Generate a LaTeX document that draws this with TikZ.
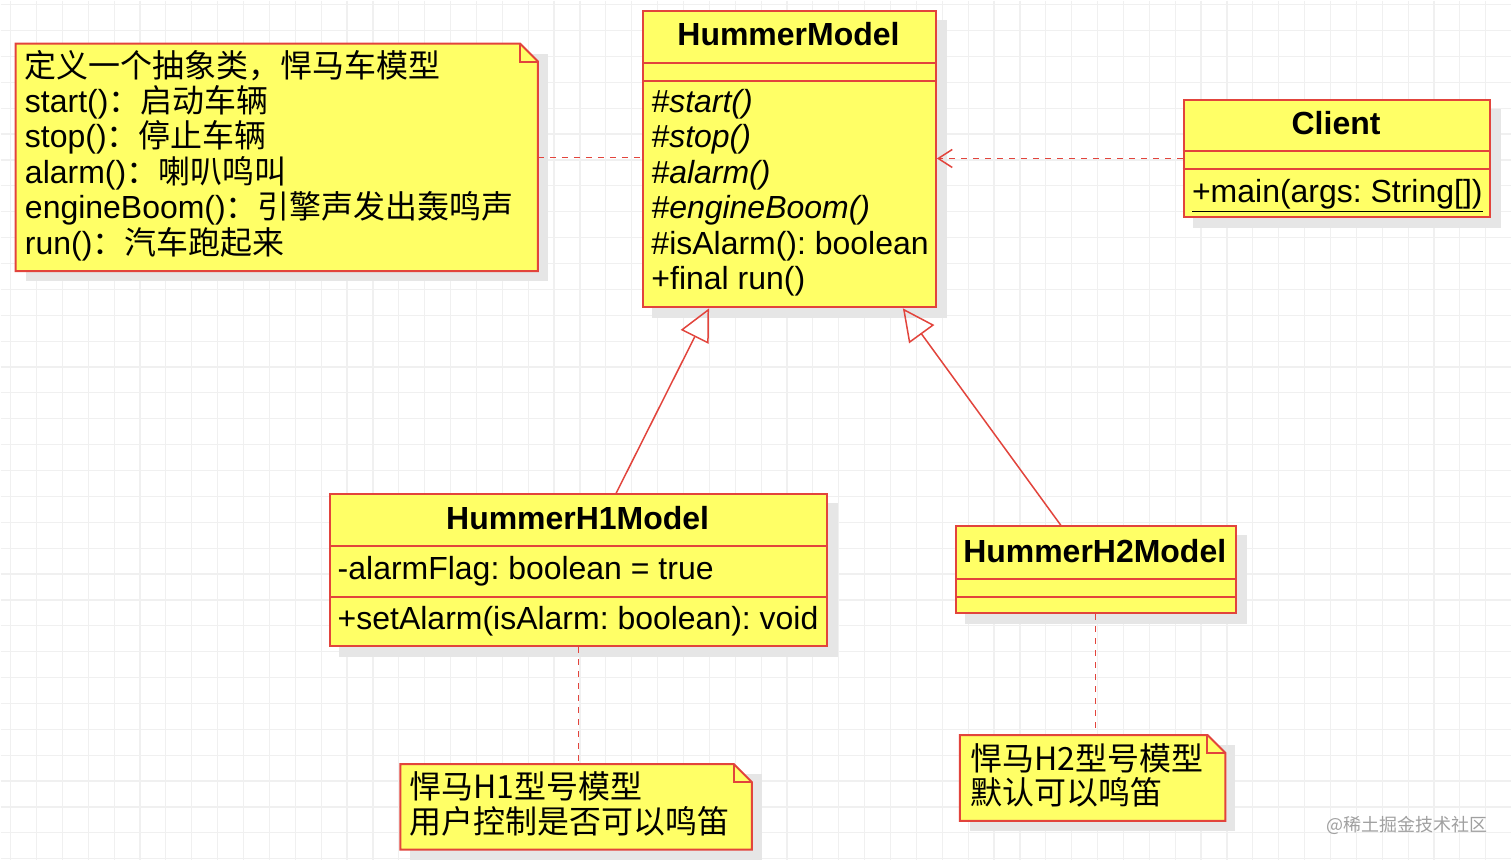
\documentclass[tikz,border=0pt]{standalone}
\usepackage{fontspec}
\setmainfont{Liberation Sans}
\newfontfamily\cjk{Noto Sans CJK SC}
\usetikzlibrary{arrows.meta,calc,backgrounds}
\definecolor{umlfill}{RGB}{255,255,102}
\definecolor{umlline}{RGB}{226,68,60}
\definecolor{gridc}{RGB}{240,240,240}
\definecolor{shadc}{RGB}{230,230,230}
\definecolor{wmark}{RGB}{160,160,160}
\frenchspacing
\begin{document}
\begin{tikzpicture}[x=0.5pt,y=-0.5pt,
  box/.style={draw=umlline,fill=umlfill,line width=1pt,inner sep=0pt,anchor=north west},
  notebox/.style={inner sep=0pt,anchor=north west,draw=none},
  notepath/.style={draw=umlline,fill=umlfill,line width=1pt},
  txt/.style={inner sep=0pt,anchor=base west,font=\fontsize{16pt}{17.8pt}\selectfont\frenchspacing},
  itxt/.style={inner sep=0pt,anchor=base west,font=\fontsize{16pt}{17.8pt}\selectfont\itshape},
  ttl/.style={inner sep=0pt,anchor=base,font=\fontsize{16pt}{17.8pt}\selectfont\bfseries},
  sep/.style={draw=umlline,line width=1pt},
  inherit/.style={draw=umlline,line width=0.75pt,-{Triangle[open,length=16pt,width=15.5pt]}},
  dep/.style={draw=umlline,line width=0.75pt,dash pattern=on 3pt off 3pt,-{Straight Barb[length=7pt,width=9pt]}},
  link/.style={draw=umlline,line width=0.75pt,dash pattern=on 3pt off 3pt},
  shad/.style={fill=shadc}]

\begin{pgfonlayer}{background}
  \fill[white] (0,0) rectangle (1512,860);
  \foreach \gx in {10,35.9,...,1512} \draw[gridc,line width=0.6pt] (\gx,0) -- (\gx,860);
  \foreach \gy in {4.1,30,...,860} \draw[gridc,line width=0.6pt] (0,\gy) -- (1512,\gy);
\end{pgfonlayer}

% class boxes
\node[box,minimum width=146.5pt,minimum height=148.5pt] (hm) at (642,9) {};
\node[box,minimum width=153.5pt,minimum height=59pt] (cl) at (1183,98) {};
\node[box,minimum width=248.5pt,minimum height=76pt] (h1) at (329,493) {};
\node[box,minimum width=140pt,minimum height=43.5pt] (h2) at (955,525) {};

% notes
\node[notebox,minimum width=261pt,minimum height=113.5pt] (n0) at (15,43) {};
\node[notebox,minimum width=175.5pt,minimum height=42.5pt] (n1) at (400,764) {};
\node[notebox,minimum width=132.5pt,minimum height=42.5pt] (n2) at (960,735) {};
\foreach \n in {n0,n1,n2} {
  \draw[notepath] (\n.north west) -- ([xshift=-9pt]\n.north east) -- ([yshift=-9pt]\n.north east) -- (\n.south east) -- (\n.south west) -- cycle;
  \draw[sep] ([xshift=-9pt]\n.north east) -- ([xshift=-9pt,yshift=-9pt]\n.north east) -- ([yshift=-9pt]\n.north east);
}

% shadows
\begin{pgfonlayer}{background}
  \foreach \n in {hm,cl,h1,h2,n0,n1,n2}
    \fill[shad] ([shift={(5pt,-5pt)}]\n.north west) rectangle ([shift={(5pt,-5pt)}]\n.south east);
\end{pgfonlayer}

% compartments
\draw[sep] ($(hm.north west)+(0,53)$) -- ($(hm.north east)+(0,53)$);
\draw[sep] ($(hm.north west)+(0,71)$) -- ($(hm.north east)+(0,71)$);
\draw[sep] ($(cl.north west)+(0,53)$) -- ($(cl.north east)+(0,53)$);
\draw[sep] ($(cl.north west)+(0,71)$) -- ($(cl.north east)+(0,71)$);
\draw[sep] ($(h1.north west)+(0,53)$) -- ($(h1.north east)+(0,53)$);
\draw[sep] ($(h1.north west)+(0,104)$) -- ($(h1.north east)+(0,104)$);
\draw[sep] ($(h2.north west)+(0,54)$) -- ($(h2.north east)+(0,54)$);
\draw[sep] ($(h2.north west)+(0,72)$) -- ($(h2.north east)+(0,72)$);

% HummerModel texts
\node[ttl] (hmt) at (788.5,45) {HummerModel};
\node[itxt] (hm1) at (651,112) {\#start()};
\node[itxt] (hm2) at (651,147.5) {\#stop()};
\node[itxt] (hm3) at (651,183) {\#alarm()};
\node[itxt] (hm4) at (651,218.5) {\#engineBoom()};
\node[txt] (hm5) at (651,254) {\#isAlarm(): boolean};
\node[txt] (hm6) at (651,289.5) {+final run()};

% Client texts
\node[ttl] (clt) at (1336.5,134) {Client};
\node[txt] (cl1) at (1192,202) {\underline{+main(args: String[])}};

% H1 texts
\node[ttl] (h1t) at (577.5,529) {HummerH1Model};
\node[txt] (h1a) at (337,579) {-alarmFlag: boolean = true};
\node[txt] (h1m) at (337,629) {+setAlarm(isAlarm: boolean): void};

% H2 text
\node[ttl] (h2t) at (1095,562) {HummerH2Model};

% note texts
\node[txt] (n0a) at (24,76.5) {\cjk 定义一个抽象类，悍马车模型};
\node[txt] (n0b) at (24,112) {start()\cjk ：启动车辆};
\node[txt] (n0c) at (24,147.5) {stop()\cjk ：停止车辆};
\node[txt] (n0d) at (24,183) {alarm()\cjk ：喇叭鸣叫};
\node[txt] (n0e) at (24,218.5) {engineBoom()\cjk ：引擎声发出轰鸣声};
\node[txt] (n0f) at (24,254) {run()\cjk ：汽车跑起来};

\node[txt] (n1a) at (409,799) {\cjk 悍马H1型号模型};
\node[txt] (n1b) at (409,834) {\cjk 用户控制是否可以鸣笛};

\node[txt] (n2a) at (970,770) {\cjk 悍马H2型号模型};
\node[txt] (n2b) at (970,805) {\cjk 默认可以鸣笛};

% connectors
\draw[link] (n0.east) -- (n0.east -| hm.west);
\draw[dep] (cl.west) -- (cl.west -| hm.east);
\draw[inherit] ([xshift=18.75pt]h1.north) -- ([xshift=-40.25pt]hm.south);
\draw[inherit] ([xshift=-17.5pt]h2.north) -- ([xshift=56.75pt]hm.south);
\draw[link] (h1.south) -- (h1.south |- n1.north);
\draw[link] (h2.south) -- (h2.south |- n2.north);

% watermark
\node[anchor=base east,inner sep=0pt,text=wmark,font=\cjk\fontsize{9pt}{10pt}\selectfont] (wm) at (1488,832) {@稀土掘金技术社区};
\end{tikzpicture}
\end{document}
